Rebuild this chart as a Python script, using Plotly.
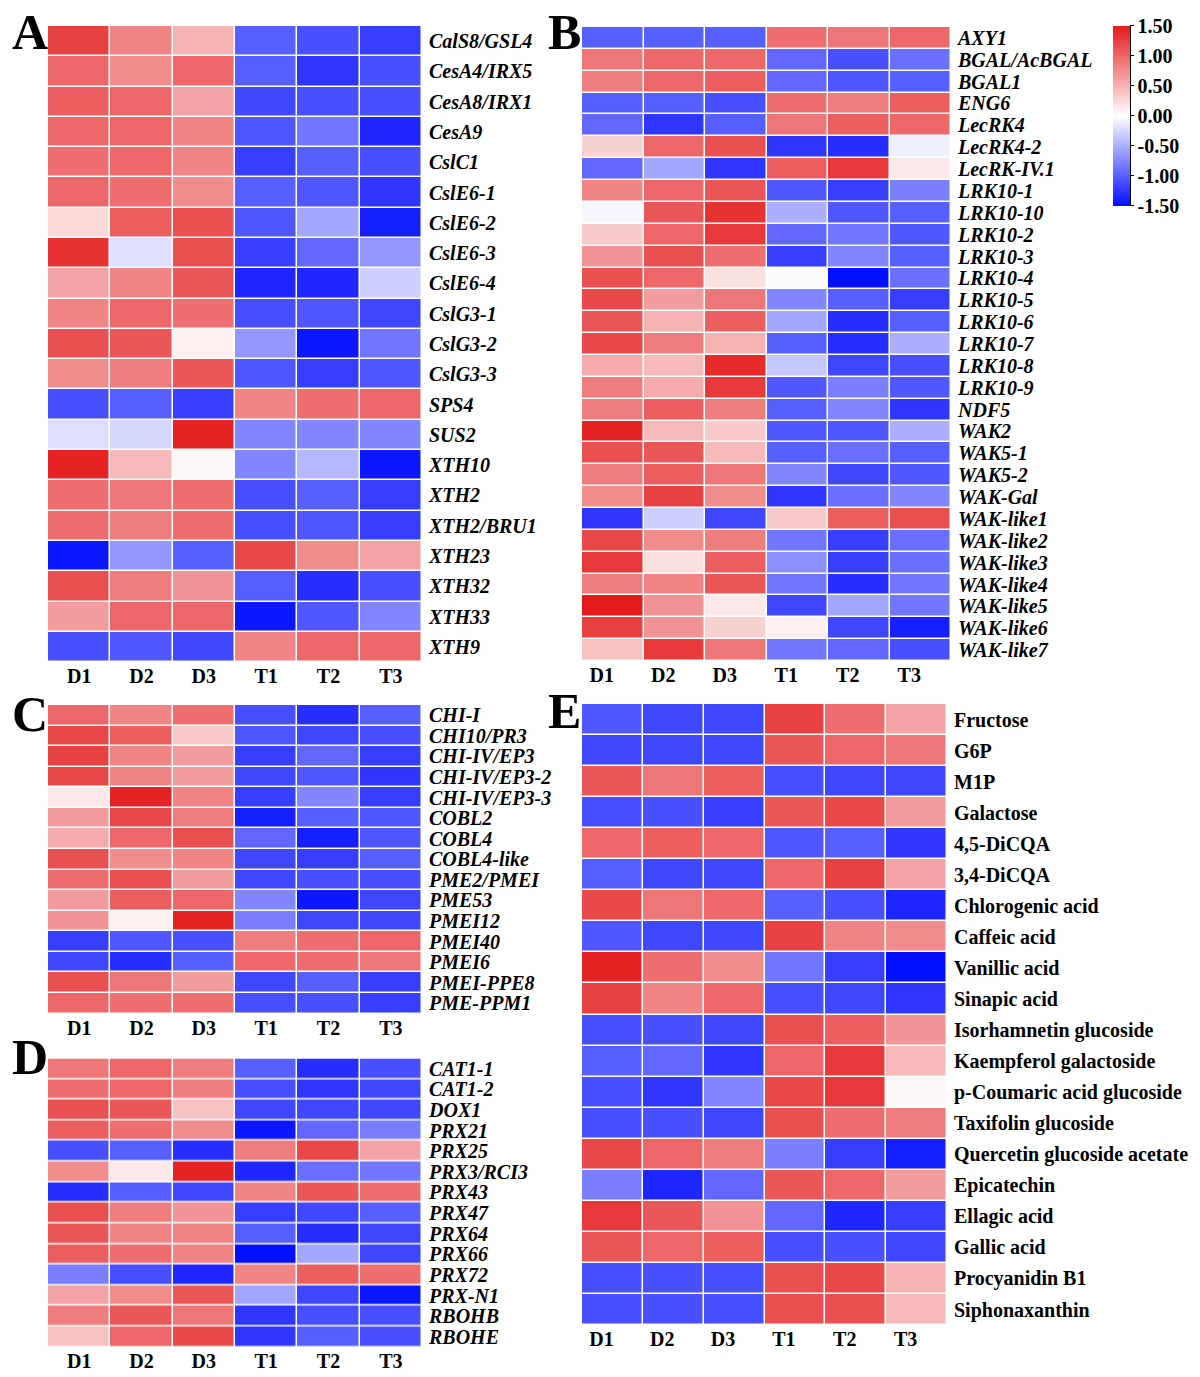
import plotly.graph_objects as go

cols = ["D1", "D2", "D3", "T1", "T2", "T3"]

genes_A = ["CalS8/GSL4", "CesA4/IRX5", "CesA8/IRX1", "CesA9", "CslC1", "CslE6-1", "CslE6-2",
           "CslE6-3", "CslE6-4", "CslG3-1", "CslG3-2", "CslG3-3", "SPS4", "SUS2", "XTH10",
           "XTH2", "XTH2/BRU1", "XTH23", "XTH32", "XTH33", "XTH9"]
vals_A = [
    [1.25, 0.8, 0.5, -1.0, -1.1, -1.2],
    [1.0, 0.75, 1.0, -1.0, -1.25, -1.1],
    [1.05, 1.0, 0.6, -1.15, -1.1, -1.1],
    [1.0, 1.0, 0.8, -1.05, -0.85, -1.35],
    [0.95, 1.0, 0.8, -1.2, -1.0, -1.1],
    [1.0, 0.95, 0.75, -1.0, -1.05, -1.25],
    [0.25, 1.05, 1.15, -1.05, -0.55, -1.4],
    [1.35, -0.2, 1.15, -1.2, -0.95, -0.65],
    [0.6, 0.8, 1.1, -1.35, -1.35, -0.3],
    [0.8, 1.0, 0.95, -1.1, -1.05, -1.15],
    [1.15, 1.1, 0.1, -0.65, -1.45, -0.85],
    [0.75, 0.85, 1.1, -1.05, -1.2, -1.05],
    [-1.1, -1.0, -1.2, 0.8, 0.95, 1.0],
    [-0.2, -0.25, 1.45, -0.75, -0.75, -0.75],
    [1.45, 0.45, 0.05, -0.75, -0.45, -1.45],
    [0.95, 0.9, 0.95, -1.1, -1.0, -1.2],
    [0.95, 0.85, 0.95, -1.1, -1.05, -1.2],
    [-1.45, -0.65, -1.0, 1.2, 0.75, 0.6],
    [1.15, 0.85, 0.7, -1.0, -1.3, -1.1],
    [0.65, 1.0, 1.0, -1.45, -1.05, -0.75],
    [-1.1, -1.05, -1.15, 0.8, 1.0, 1.0],
]

genes_B = ["AXY1", "BGAL/AcBGAL", "BGAL1", "ENG6", "LecRK4", "LecRK4-2", "LecRK-IV.1",
           "LRK10-1", "LRK10-10", "LRK10-2", "LRK10-3", "LRK10-4", "LRK10-5", "LRK10-6",
           "LRK10-7", "LRK10-8", "LRK10-9", "NDF5", "WAK2", "WAK5-1", "WAK5-2", "WAK-Gal",
           "WAK-like1", "WAK-like2", "WAK-like3", "WAK-like4", "WAK-like5", "WAK-like6", "WAK-like7"]
vals_B = [
    [-1.0, -1.0, -1.0, 0.95, 0.9, 1.0],
    [0.9, 1.0, 1.0, -0.95, -1.1, -0.9],
    [0.85, 1.0, 1.05, -0.95, -1.05, -1.0],
    [-1.0, -1.0, -1.1, 0.95, 0.85, 1.05],
    [-0.95, -1.25, -1.0, 0.9, 1.05, 1.0],
    [0.3, 1.0, 1.15, -1.25, -1.3, -0.1],
    [-0.95, -0.55, -1.25, 1.05, 1.3, 0.15],
    [0.8, 1.0, 1.1, -1.05, -1.2, -0.8],
    [-0.05, 1.1, 1.35, -0.5, -1.05, -1.0],
    [0.35, 1.0, 1.3, -0.95, -0.85, -1.05],
    [0.7, 1.15, 0.95, -1.2, -0.75, -1.0],
    [1.15, 1.0, 0.2, -0.02, -1.5, -0.9],
    [1.2, 0.65, 0.9, -0.75, -1.0, -1.2],
    [1.1, 0.5, 1.05, -0.55, -1.3, -1.0],
    [1.2, 0.85, 0.5, -1.0, -1.3, -0.5],
    [0.55, 0.45, 1.4, -0.35, -1.15, -1.1],
    [0.85, 0.55, 1.3, -1.05, -0.8, -1.05],
    [0.85, 1.05, 0.85, -1.0, -0.75, -1.25],
    [1.45, 0.45, 0.35, -1.05, -1.05, -0.5],
    [1.15, 1.1, 0.45, -1.0, -0.9, -1.0],
    [0.85, 1.05, 0.9, -0.75, -1.15, -1.05],
    [0.75, 1.25, 0.75, -1.25, -0.9, -0.75],
    [-1.25, -0.3, -1.15, 0.35, 1.05, 1.15],
    [1.2, 0.75, 0.85, -0.85, -1.2, -0.9],
    [1.3, 0.2, 1.05, -0.7, -1.2, -0.9],
    [0.85, 0.8, 1.1, -0.85, -1.3, -0.85],
    [1.5, 0.7, 0.15, -1.15, -0.55, -0.85],
    [1.25, 0.7, 0.3, 0.1, -1.15, -1.4],
    [0.4, 1.3, 0.9, -0.85, -0.95, -1.1],
]

genes_C = ["CHI-I", "CHI10/PR3", "CHI-IV/EP3", "CHI-IV/EP3-2", "CHI-IV/EP3-3", "COBL2", "COBL4",
           "COBL4-like", "PME2/PMEI", "PME53", "PMEI12", "PMEI40", "PMEI6", "PMEI-PPE8", "PME-PPM1"]
vals_C = [
    [1.0, 0.8, 0.95, -1.1, -1.3, -1.0],
    [1.2, 1.05, 0.35, -1.05, -1.15, -1.1],
    [1.25, 0.8, 0.65, -1.2, -0.95, -1.2],
    [1.2, 0.8, 0.65, -1.15, -1.05, -1.25],
    [0.15, 1.45, 0.8, -1.2, -0.75, -1.2],
    [0.65, 1.2, 0.85, -1.4, -1.0, -1.05],
    [0.55, 1.0, 1.15, -0.95, -1.4, -1.05],
    [1.15, 0.75, 0.8, -1.15, -1.2, -1.0],
    [0.95, 1.15, 0.65, -1.15, -1.1, -1.1],
    [0.65, 1.05, 1.0, -0.75, -1.45, -1.15],
    [0.7, 0.1, 1.45, -0.8, -1.15, -1.15],
    [-1.2, -1.05, -1.1, 0.85, 0.95, 1.0],
    [-1.15, -1.3, -1.0, 1.0, 0.95, 0.9],
    [1.15, 0.9, 0.65, -1.15, -1.0, -1.2],
    [1.0, 0.95, 0.95, -1.1, -1.1, -1.2],
]

genes_D = ["CAT1-1", "CAT1-2", "DOX1", "PRX21", "PRX25", "PRX3/RCI3", "PRX43", "PRX47",
           "PRX64", "PRX66", "PRX72", "PRX-N1", "RBOHB", "RBOHE"]
vals_D = [
    [0.9, 1.0, 0.85, -1.0, -1.3, -1.1],
    [0.95, 1.0, 0.85, -1.1, -1.25, -1.15],
    [1.15, 1.1, 0.4, -1.15, -1.15, -1.15],
    [1.05, 0.95, 0.75, -1.45, -0.95, -0.8],
    [-1.1, -1.0, -1.3, 0.85, 1.2, 0.6],
    [0.75, 0.15, 1.45, -1.35, -0.9, -0.85],
    [-1.3, -1.0, -1.15, 0.8, 1.1, 0.95],
    [1.15, 0.85, 0.7, -1.2, -1.15, -1.0],
    [1.1, 0.8, 0.8, -1.0, -1.3, -1.15],
    [1.05, 0.95, 0.8, -1.5, -0.55, -1.15],
    [-0.8, -1.1, -1.35, 0.8, 1.05, 0.95],
    [0.6, 0.75, 1.1, -0.55, -1.15, -1.45],
    [0.85, 1.1, 0.9, -1.25, -1.1, -1.1],
    [0.4, 1.0, 1.2, -1.25, -1.0, -1.1],
]

metab_E = ["Fructose", "G6P", "M1P", "Galactose", "4,5-DiCQA", "3,4-DiCQA", "Chlorogenic acid",
           "Caffeic acid", "Vanillic acid", "Sinapic acid", "Isorhamnetin glucoside",
           "Kaempferol galactoside", "p-Coumaric acid glucoside", "Taxifolin glucoside",
           "Quercetin glucoside acetate", "Epicatechin", "Ellagic acid", "Gallic acid",
           "Procyanidin B1", "Siphonaxanthin"]
vals_E = [
    [-1.05, -1.15, -1.15, 1.25, 0.95, 0.6],
    [-1.15, -1.15, -1.15, 1.1, 1.0, 0.9],
    [1.1, 0.9, 1.05, -1.1, -1.15, -1.15],
    [-1.1, -1.1, -1.2, 1.1, 1.2, 0.65],
    [1.0, 1.05, 1.0, -1.05, -1.0, -1.25],
    [-1.0, -1.15, -1.15, 1.0, 1.25, 0.6],
    [1.2, 0.9, 1.0, -1.0, -1.1, -1.35],
    [-1.05, -1.15, -1.15, 1.25, 0.8, 0.75],
    [1.45, 0.95, 0.75, -0.85, -1.2, -1.5],
    [1.25, 0.8, 1.0, -1.1, -1.15, -1.25],
    [-1.1, -1.1, -1.15, 1.15, 1.05, 0.7],
    [-1.0, -0.95, -1.25, 1.0, 1.3, 0.45],
    [-1.1, -1.25, -0.75, 1.2, 1.3, 0.05],
    [-1.1, -1.1, -1.15, 1.15, 0.95, 0.85],
    [1.2, 1.0, 0.85, -0.8, -1.2, -1.4],
    [-0.8, -1.35, -0.95, 1.1, 1.0, 0.65],
    [1.3, 1.1, 0.7, -0.95, -1.35, -1.2],
    [1.1, 1.0, 1.05, -1.1, -1.1, -1.15],
    [-1.1, -1.1, -1.1, 1.15, 1.2, 0.5],
    [-1.1, -1.1, -1.1, 1.15, 1.15, 0.45],
]

cbar_ticks = [1.5, 1.0, 0.5, 0.0, -0.5, -1.0, -1.5]
cbar_text = ["1.50", "1.00", "0.50", "0.00", "-0.50", "-1.00", "-1.50"]

# the page's body margin is removed by a post script, so figure pixels == window pixels
W, H = 1200, 1377
SERIF = "Liberation Serif"
cscale = [[0.0, "rgb(5,15,255)"], [0.5, "rgb(255,255,255)"], [1.0, "rgb(228,26,28)"]]

def px_x(v):
    return v / W

def px_y(v):
    return 1 - v / H

panels = [
    ("A", genes_A, vals_A, (48, 422), (25, 662), True, 0),
    ("B", genes_B, vals_B, (582, 951), (26, 661), True, -11),
    ("C", genes_C, vals_C, (48, 422), (705, 1014), True, 0),
    ("D", genes_D, vals_D, (48, 422), (1059, 1348), True, 0),
    ("E", metab_E, vals_E, (582, 947), (704, 1326), False, -11),
]

CB_X0, CB_X1, CB_Y0, CB_Y1 = 1113, 1130, 25, 205

fig = go.Figure()
layout = dict(
    width=W, height=H, margin=dict(l=0, r=0, t=0, b=0),
    paper_bgcolor="white", plot_bgcolor="white", showlegend=False,
)

for i, (name, rows, vals, (x0, x1), (y0, y1), italic, shift) in enumerate(panels):
    k = "" if i == 0 else str(i + 1)
    first = i == 0
    fig.add_trace(go.Heatmap(
        z=vals, x=cols, y=rows,
        xaxis="x" + k, yaxis="y" + k,
        colorscale=cscale, zmin=-1.5, zmax=1.5,
        xgap=1.5, ygap=1.5,
        showscale=first,
        colorbar=dict(
            x=px_x(CB_X0), xanchor="left", y=px_y(CB_Y0), yanchor="top",
            xpad=0, ypad=0,
            lenmode="pixels", len=CB_Y1 - CB_Y0, thicknessmode="pixels", thickness=CB_X1 - CB_X0,
            outlinewidth=0, tickvals=cbar_ticks, ticktext=cbar_text,
            ticks="outside", ticklen=4, tickwidth=1, tickcolor="black",
            tickfont=dict(family=SERIF, size=20, color="black", weight="bold"),
        ) if first else None,
    ))
    layout["xaxis" + k] = dict(
        domain=[px_x(x0), px_x(x1)], anchor="y" + k, side="bottom",
        showgrid=False, zeroline=False, showline=False, ticks="",
        tickmode="array", tickvals=cols, ticktext=cols,
        tickfont=dict(family=SERIF, size=20, color="black", weight="bold"),
        ticklabelshift=shift,
    )
    layout["yaxis" + k] = dict(
        domain=[px_y(y1), px_y(y0)], anchor="x" + k, side="right",
        autorange="reversed", showgrid=False, zeroline=False, showline=False,
        ticks="outside", ticklen=2, tickcolor="rgba(0,0,0,0)",
        tickmode="array", tickvals=rows, ticktext=rows,
        tickfont=dict(family=SERIF, size=20, color="black",
                      weight="bold", style="italic" if italic else "normal"),
    )

letters = [("A", 10, 31), ("B", 546, 31), ("C", 10, 714), ("D", 10, 1058), ("E", 546, 711)]
anns = []
for t, lx, ly in letters:
    anns.append(dict(text=t, x=px_x(lx), y=px_y(ly), xref="paper", yref="paper",
                     xanchor="left", yanchor="middle", showarrow=False,
                     font=dict(family=SERIF, size=50, color="black", weight="bold")))
layout["annotations"] = anns

# thin axis line along the right edge of the colour bar
layout["shapes"] = [dict(type="line", xref="paper", yref="paper",
                         x0=px_x(CB_X1 + 0.5), x1=px_x(CB_X1 + 0.5),
                         y0=px_y(CB_Y0), y1=px_y(CB_Y1),
                         line=dict(color="black", width=1))]

fig.update_layout(**layout)
fig.write_html("out.html",
               config={"displayModeBar": False},
               post_script="document.body.style.margin='0';document.body.style.padding='0';")
